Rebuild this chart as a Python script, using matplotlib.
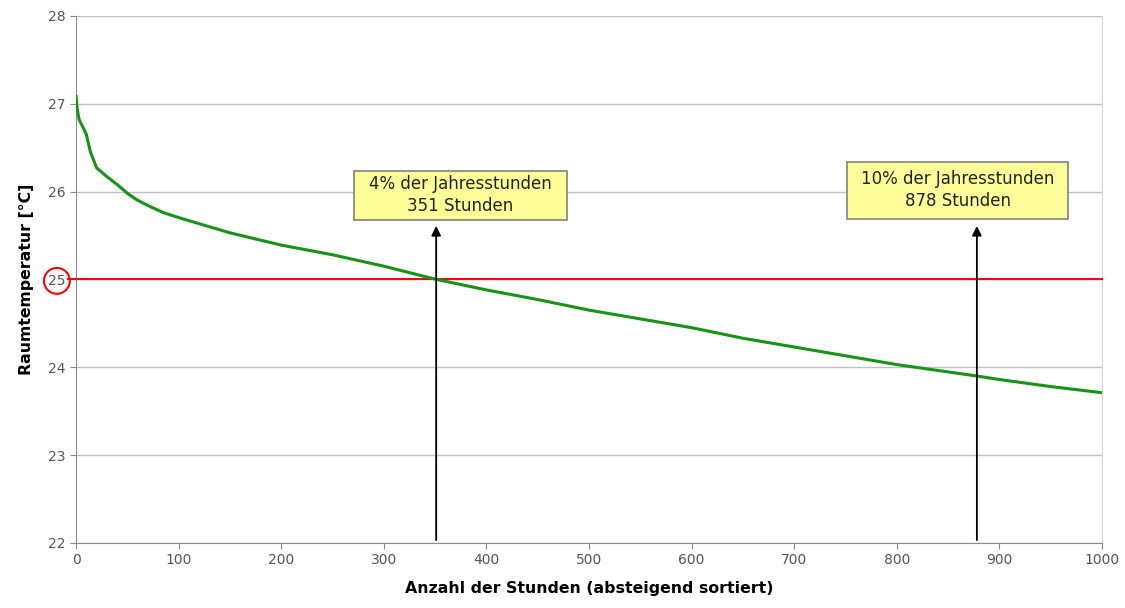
import matplotlib
matplotlib.use("Agg")
import matplotlib.pyplot as plt
from matplotlib.patches import Rectangle

plt.rcParams['font.family'] = ['DejaVu Sans']

# sortierte Raumtemperaturen
hours = [0, 1, 3, 6, 10, 14, 20, 30, 40, 50, 60, 72, 85, 101, 121, 150, 200, 250,
         300, 351, 400, 450, 500, 550, 600, 650, 700, 750, 800, 878, 900, 950, 1000]
temps = [27.08, 26.95, 26.82, 26.75, 26.65, 26.45, 26.27, 26.17, 26.08, 25.98, 25.90,
         25.83, 25.76, 25.70, 25.63, 25.53, 25.39, 25.28, 25.15, 25.00, 24.88, 24.77,
         24.65, 24.55, 24.45, 24.33, 24.23, 24.13, 24.03, 23.90, 23.86, 23.78, 23.71]
limit = 25
marks = [351, 878]
mark_texts = ["4% der Jahresstunden\n351 Stunden", "10% der Jahresstunden\n878 Stunden"]
yticks = [22, 23, 24, 25, 26, 27, 28]
xticks = list(range(0, 1001, 100))

# Kästen: (x0, x1, y0, y1) in Datenkoordinaten
boxes = [(271, 478.6, 25.677, 26.235), (751.5, 966.9, 25.689, 26.338)]

GRID = "#c0c0c0"; AX = "#8c8c8c"
fig = plt.figure(figsize=(11.25, 6.08), dpi=100)
ax = fig.add_axes([0.0676, 0.107, 0.912, 0.867])
ax.set_xlim(0, 1000); ax.set_ylim(22, 28)
ax.set_yticks(yticks); ax.set_xticks(xticks)
ax.grid(axis='y', color=GRID, lw=1)
ax.set_axisbelow(True)
for s in ['left', 'bottom']:
    ax.spines[s].set_color(AX)
ax.spines['right'].set_color("#d8d8d8")
ax.spines['top'].set_visible(False)
ax.tick_params(colors=AX, labelcolor="#555555", labelsize=10, length=4)

ax.plot([-8, 1000], [limit, limit], color="#ff0000", lw=1.5, clip_on=False, zorder=3)
ax.plot(hours, temps, color="#179317", lw=2.2, zorder=4)

for x in marks:
    ax.annotate("", xy=(x, 25.64), xytext=(x, 22),
                arrowprops=dict(arrowstyle="-|>", color="black", lw=1.3, mutation_scale=14),
                zorder=5)
for (x0, x1, y0, y1), t in zip(boxes, mark_texts):
    ax.add_patch(Rectangle((x0, y0), x1 - x0, y1 - y0, fc="#ffff99", ec="#808080", lw=1.2, zorder=6))
    ax.text((x0 + x1) / 2, (y0 + y1) / 2, t, ha='center', va='center', fontsize=12,
            color="#222222", linespacing=1.3, zorder=7)

for lbl in ax.get_yticklabels():
    if lbl.get_text() == "25":
        lbl.set_bbox(dict(boxstyle="circle,pad=0.3", fc="none", ec="#ff0000", lw=1.5))

ax.set_ylabel("Raumtemperatur [°C]", fontsize=11.3, fontweight='bold', labelpad=10)
ax.set_xlabel("Anzahl der Stunden (absteigend sortiert)", fontsize=11.3, fontweight='bold', labelpad=10)

fig.savefig("out.png", dpi=100)
